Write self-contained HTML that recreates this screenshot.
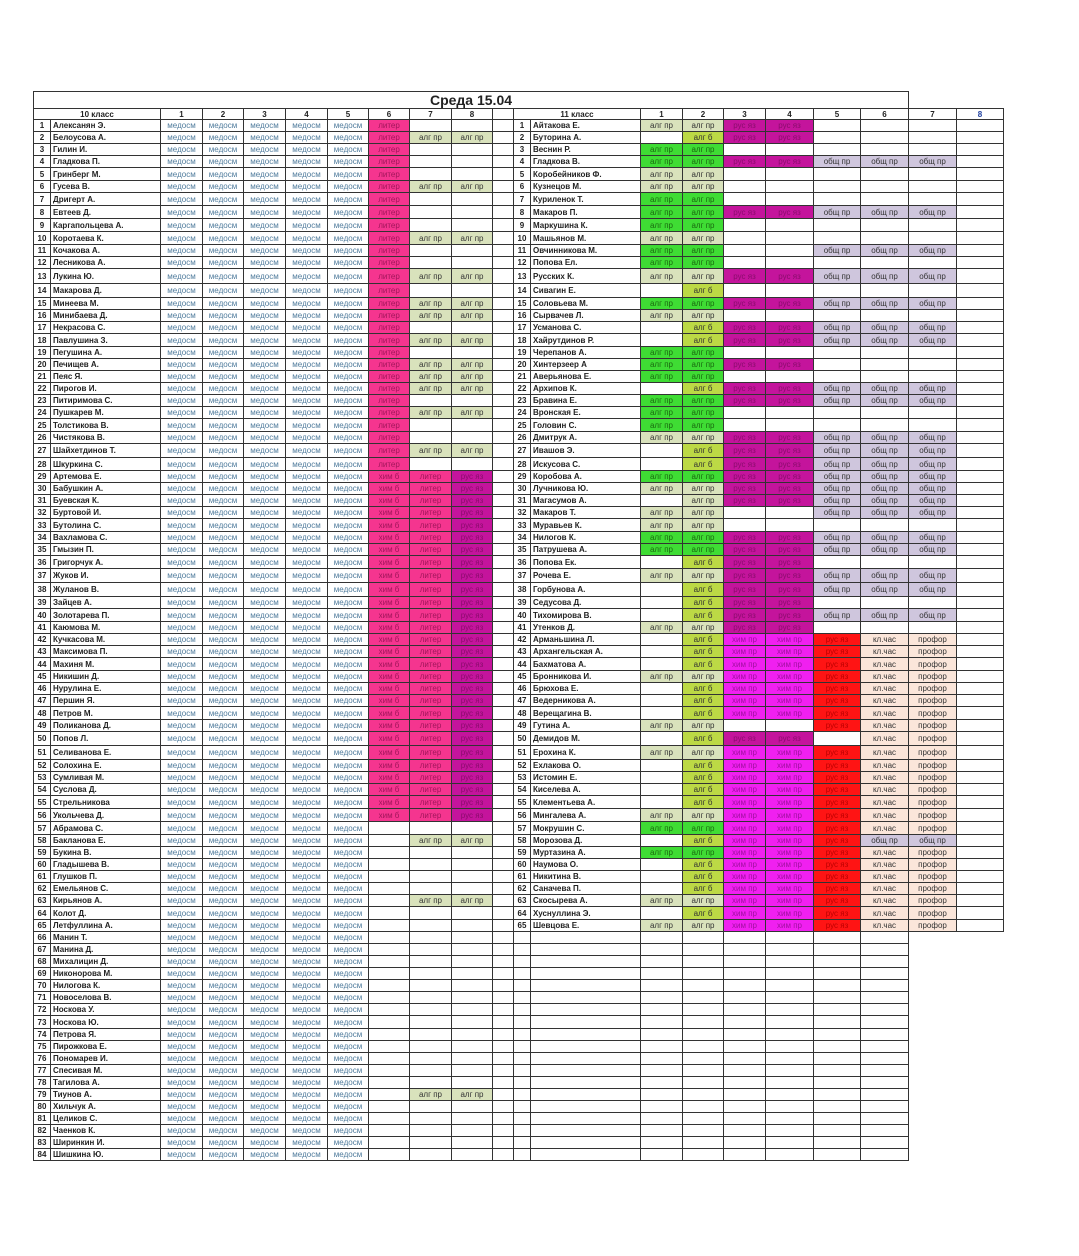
<!DOCTYPE html>
<html><head><meta charset="utf-8">
<style>
html,body{margin:0;padding:0;background:#fff;width:1079px;height:1256px;overflow:hidden}
table{position:absolute;left:33px;top:91px;border-collapse:collapse;table-layout:fixed;font-family:"Liberation Sans","DejaVu Sans",sans-serif;font-size:8px;color:#222}
td{border:1px solid #333;padding:0;text-align:center;white-space:nowrap;overflow:hidden;line-height:9px}
tr{height:12px}
tr.t13{height:13px}tr.t14{height:14px}tr.t15{height:15px}
td.i{font-weight:bold;text-align:center}
td.n{font-weight:bold;text-align:left;padding-left:2px}
td.m{color:#4f7b9c}
td.l,td.h{background:#f5358f;color:#a0155a}
td.a{background:#d9e2bc;color:#333}
td.g{background:#3fdc34;color:#1a6a10}
td.b{background:#bcd945;color:#333}
td.r{background:#c4149c;color:#8a0c6c}
td.x{background:#f020f0;color:#a010a0}
td.e{background:#ff1414;color:#b00}
td.o{background:#cfc6dd;color:#333}
td.k{background:#fbe6da;color:#333}
td.z{border:none}
tr.hd td{font-weight:bold}
tr.tt td.tt{font-size:14px;font-weight:bold;height:16px;border-bottom:1px solid #333}
</style></head><body>
<table>
<colgroup><col style="width:17px"><col style="width:110px"><col style="width:42px"><col style="width:41px"><col style="width:42px"><col style="width:42px"><col style="width:41px"><col style="width:41px"><col style="width:42px"><col style="width:41px"><col style="width:21px"><col style="width:17px"><col style="width:110px"><col style="width:42px"><col style="width:41px"><col style="width:42px"><col style="width:48px"><col style="width:47px"><col style="width:48px"><col style="width:48px"><col style="width:47px"></colgroup>
<tr class="tt" style="height:17px"><td class="tt" colspan="19">Среда 15.04</td><td class="z"></td><td class="z"></td></tr>
<tr class="hd" style="height:11px"><td colspan="2">10 класс</td><td>1</td><td>2</td><td>3</td><td>4</td><td>5</td><td>6</td><td>7</td><td>8</td><td></td><td colspan="2">11 класс</td><td>1</td><td>2</td><td>3</td><td>4</td><td>5</td><td>6</td><td>7</td><td style="color:#2040a0">8</td></tr>
<tr><td class=i>1</td><td class=n>Алексанян Э.</td><td class=m>медосм</td><td class=m>медосм</td><td class=m>медосм</td><td class=m>медосм</td><td class=m>медосм</td><td class=l>литер</td><td></td><td></td><td></td><td class=i>1</td><td class=n>Айтакова Е.</td><td class=a>алг пр</td><td class=a>алг пр</td><td class=r>рус яз</td><td class=r>рус яз</td><td></td><td></td><td></td><td></td></tr>
<tr><td class=i>2</td><td class=n>Белоусова А.</td><td class=m>медосм</td><td class=m>медосм</td><td class=m>медосм</td><td class=m>медосм</td><td class=m>медосм</td><td class=l>литер</td><td class=a>алг пр</td><td class=a>алг пр</td><td></td><td class=i>2</td><td class=n>Буторина А.</td><td></td><td class=b>алг б</td><td class=r>рус яз</td><td class=r>рус яз</td><td></td><td></td><td></td><td></td></tr>
<tr><td class=i>3</td><td class=n>Гилин И.</td><td class=m>медосм</td><td class=m>медосм</td><td class=m>медосм</td><td class=m>медосм</td><td class=m>медосм</td><td class=l>литер</td><td></td><td></td><td></td><td class=i>3</td><td class=n>Веснин Р.</td><td class=g>алг пр</td><td class=g>алг пр</td><td></td><td></td><td></td><td></td><td></td><td></td></tr>
<tr><td class=i>4</td><td class=n>Гладкова П.</td><td class=m>медосм</td><td class=m>медосм</td><td class=m>медосм</td><td class=m>медосм</td><td class=m>медосм</td><td class=l>литер</td><td></td><td></td><td></td><td class=i>4</td><td class=n>Гладкова В.</td><td class=g>алг пр</td><td class=g>алг пр</td><td class=r>рус яз</td><td class=r>рус яз</td><td class=o>общ пр</td><td class=o>общ пр</td><td class=o>общ пр</td><td></td></tr>
<tr class=t13><td class=i>5</td><td class=n>Гринберг М.</td><td class=m>медосм</td><td class=m>медосм</td><td class=m>медосм</td><td class=m>медосм</td><td class=m>медосм</td><td class=l>литер</td><td></td><td></td><td></td><td class=i>5</td><td class=n>Коробейников Ф.</td><td class=a>алг пр</td><td class=a>алг пр</td><td></td><td></td><td></td><td></td><td></td><td></td></tr>
<tr><td class=i>6</td><td class=n>Гусева В.</td><td class=m>медосм</td><td class=m>медосм</td><td class=m>медосм</td><td class=m>медосм</td><td class=m>медосм</td><td class=l>литер</td><td class=a>алг пр</td><td class=a>алг пр</td><td></td><td class=i>6</td><td class=n>Кузнецов М.</td><td class=a>алг пр</td><td class=a>алг пр</td><td></td><td></td><td></td><td></td><td></td><td></td></tr>
<tr class=t13><td class=i>7</td><td class=n>Дригерт А.</td><td class=m>медосм</td><td class=m>медосм</td><td class=m>медосм</td><td class=m>медосм</td><td class=m>медосм</td><td class=l>литер</td><td></td><td></td><td></td><td class=i>7</td><td class=n>Куриленок Т.</td><td class=g>алг пр</td><td class=g>алг пр</td><td></td><td></td><td></td><td></td><td></td><td></td></tr>
<tr class=t13><td class=i>8</td><td class=n>Евтеев Д.</td><td class=m>медосм</td><td class=m>медосм</td><td class=m>медосм</td><td class=m>медосм</td><td class=m>медосм</td><td class=l>литер</td><td></td><td></td><td></td><td class=i>8</td><td class=n>Макаров П.</td><td class=g>алг пр</td><td class=g>алг пр</td><td class=r>рус яз</td><td class=r>рус яз</td><td class=o>общ пр</td><td class=o>общ пр</td><td class=o>общ пр</td><td></td></tr>
<tr class=t13><td class=i>9</td><td class=n>Каргапольцева А.</td><td class=m>медосм</td><td class=m>медосм</td><td class=m>медосм</td><td class=m>медосм</td><td class=m>медосм</td><td class=l>литер</td><td></td><td></td><td></td><td class=i>9</td><td class=n>Маркушина К.</td><td class=g>алг пр</td><td class=g>алг пр</td><td></td><td></td><td></td><td></td><td></td><td></td></tr>
<tr class=t13><td class=i>10</td><td class=n>Коротаева К.</td><td class=m>медосм</td><td class=m>медосм</td><td class=m>медосм</td><td class=m>медосм</td><td class=m>медосм</td><td class=l>литер</td><td class=a>алг пр</td><td class=a>алг пр</td><td></td><td class=i>10</td><td class=n>Машьянов М.</td><td class=a>алг пр</td><td class=a>алг пр</td><td></td><td></td><td></td><td></td><td></td><td></td></tr>
<tr><td class=i>11</td><td class=n>Кочакова А.</td><td class=m>медосм</td><td class=m>медосм</td><td class=m>медосм</td><td class=m>медосм</td><td class=m>медосм</td><td class=l>литер</td><td></td><td></td><td></td><td class=i>11</td><td class=n>Овчинникова М.</td><td class=g>алг пр</td><td class=g>алг пр</td><td></td><td></td><td class=o>общ пр</td><td class=o>общ пр</td><td class=o>общ пр</td><td></td></tr>
<tr><td class=i>12</td><td class=n>Лесникова А.</td><td class=m>медосм</td><td class=m>медосм</td><td class=m>медосм</td><td class=m>медосм</td><td class=m>медосм</td><td class=l>литер</td><td></td><td></td><td></td><td class=i>12</td><td class=n>Попова Ел.</td><td class=g>алг пр</td><td class=g>алг пр</td><td></td><td></td><td></td><td></td><td></td><td></td></tr>
<tr class=t15><td class=i>13</td><td class=n>Лукина Ю.</td><td class=m>медосм</td><td class=m>медосм</td><td class=m>медосм</td><td class=m>медосм</td><td class=m>медосм</td><td class=l>литер</td><td class=a>алг пр</td><td class=a>алг пр</td><td></td><td class=i>13</td><td class=n>Русских К.</td><td class=a>алг пр</td><td class=a>алг пр</td><td class=r>рус яз</td><td class=r>рус яз</td><td class=o>общ пр</td><td class=o>общ пр</td><td class=o>общ пр</td><td></td></tr>
<tr class=t14><td class=i>14</td><td class=n>Макарова Д.</td><td class=m>медосм</td><td class=m>медосм</td><td class=m>медосм</td><td class=m>медосм</td><td class=m>медосм</td><td class=l>литер</td><td></td><td></td><td></td><td class=i>14</td><td class=n>Сивагин Е.</td><td></td><td class=b>алг б</td><td></td><td></td><td></td><td></td><td></td><td></td></tr>
<tr><td class=i>15</td><td class=n>Минеева М.</td><td class=m>медосм</td><td class=m>медосм</td><td class=m>медосм</td><td class=m>медосм</td><td class=m>медосм</td><td class=l>литер</td><td class=a>алг пр</td><td class=a>алг пр</td><td></td><td class=i>15</td><td class=n>Соловьева М.</td><td class=g>алг пр</td><td class=g>алг пр</td><td class=r>рус яз</td><td class=r>рус яз</td><td class=o>общ пр</td><td class=o>общ пр</td><td class=o>общ пр</td><td></td></tr>
<tr><td class=i>16</td><td class=n>Минибаева Д.</td><td class=m>медосм</td><td class=m>медосм</td><td class=m>медосм</td><td class=m>медосм</td><td class=m>медосм</td><td class=l>литер</td><td class=a>алг пр</td><td class=a>алг пр</td><td></td><td class=i>16</td><td class=n>Сырвачев Л.</td><td class=a>алг пр</td><td class=a>алг пр</td><td></td><td></td><td></td><td></td><td></td><td></td></tr>
<tr><td class=i>17</td><td class=n>Некрасова С.</td><td class=m>медосм</td><td class=m>медосм</td><td class=m>медосм</td><td class=m>медосм</td><td class=m>медосм</td><td class=l>литер</td><td></td><td></td><td></td><td class=i>17</td><td class=n>Усманова С.</td><td></td><td class=b>алг б</td><td class=r>рус яз</td><td class=r>рус яз</td><td class=o>общ пр</td><td class=o>общ пр</td><td class=o>общ пр</td><td></td></tr>
<tr class=t13><td class=i>18</td><td class=n>Павлушина З.</td><td class=m>медосм</td><td class=m>медосм</td><td class=m>медосм</td><td class=m>медосм</td><td class=m>медосм</td><td class=l>литер</td><td class=a>алг пр</td><td class=a>алг пр</td><td></td><td class=i>18</td><td class=n>Хайрутдинов Р.</td><td></td><td class=b>алг б</td><td class=r>рус яз</td><td class=r>рус яз</td><td class=o>общ пр</td><td class=o>общ пр</td><td class=o>общ пр</td><td></td></tr>
<tr><td class=i>19</td><td class=n>Пегушина А.</td><td class=m>медосм</td><td class=m>медосм</td><td class=m>медосм</td><td class=m>медосм</td><td class=m>медосм</td><td class=l>литер</td><td></td><td></td><td></td><td class=i>19</td><td class=n>Черепанов А.</td><td class=g>алг пр</td><td class=g>алг пр</td><td></td><td></td><td></td><td></td><td></td><td></td></tr>
<tr><td class=i>20</td><td class=n>Печищев А.</td><td class=m>медосм</td><td class=m>медосм</td><td class=m>медосм</td><td class=m>медосм</td><td class=m>медосм</td><td class=l>литер</td><td class=a>алг пр</td><td class=a>алг пр</td><td></td><td class=i>20</td><td class=n>Хинтерзеер А</td><td class=g>алг пр</td><td class=g>алг пр</td><td class=r>рус яз</td><td class=r>рус яз</td><td></td><td></td><td></td><td></td></tr>
<tr><td class=i>21</td><td class=n>Пеяс Я.</td><td class=m>медосм</td><td class=m>медосм</td><td class=m>медосм</td><td class=m>медосм</td><td class=m>медосм</td><td class=l>литер</td><td class=a>алг пр</td><td class=a>алг пр</td><td></td><td class=i>21</td><td class=n>Аверьянова Е.</td><td class=g>алг пр</td><td class=g>алг пр</td><td></td><td></td><td></td><td></td><td></td><td></td></tr>
<tr><td class=i>22</td><td class=n>Пирогов И.</td><td class=m>медосм</td><td class=m>медосм</td><td class=m>медосм</td><td class=m>медосм</td><td class=m>медосм</td><td class=l>литер</td><td class=a>алг пр</td><td class=a>алг пр</td><td></td><td class=i>22</td><td class=n>Архипов К.</td><td></td><td class=b>алг б</td><td class=r>рус яз</td><td class=r>рус яз</td><td class=o>общ пр</td><td class=o>общ пр</td><td class=o>общ пр</td><td></td></tr>
<tr><td class=i>23</td><td class=n>Питиримова С.</td><td class=m>медосм</td><td class=m>медосм</td><td class=m>медосм</td><td class=m>медосм</td><td class=m>медосм</td><td class=l>литер</td><td></td><td></td><td></td><td class=i>23</td><td class=n>Бравина Е.</td><td class=g>алг пр</td><td class=g>алг пр</td><td class=r>рус яз</td><td class=r>рус яз</td><td class=o>общ пр</td><td class=o>общ пр</td><td class=o>общ пр</td><td></td></tr>
<tr><td class=i>24</td><td class=n>Пушкарев М.</td><td class=m>медосм</td><td class=m>медосм</td><td class=m>медосм</td><td class=m>медосм</td><td class=m>медосм</td><td class=l>литер</td><td class=a>алг пр</td><td class=a>алг пр</td><td></td><td class=i>24</td><td class=n>Вронская Е.</td><td class=g>алг пр</td><td class=g>алг пр</td><td></td><td></td><td></td><td></td><td></td><td></td></tr>
<tr class=t13><td class=i>25</td><td class=n>Толстикова В.</td><td class=m>медосм</td><td class=m>медосм</td><td class=m>медосм</td><td class=m>медосм</td><td class=m>медосм</td><td class=l>литер</td><td></td><td></td><td></td><td class=i>25</td><td class=n>Головин С.</td><td class=g>алг пр</td><td class=g>алг пр</td><td></td><td></td><td></td><td></td><td></td><td></td></tr>
<tr><td class=i>26</td><td class=n>Чистякова В.</td><td class=m>медосм</td><td class=m>медосм</td><td class=m>медосм</td><td class=m>медосм</td><td class=m>медосм</td><td class=l>литер</td><td></td><td></td><td></td><td class=i>26</td><td class=n>Дмитрук А.</td><td class=a>алг пр</td><td class=a>алг пр</td><td class=r>рус яз</td><td class=r>рус яз</td><td class=o>общ пр</td><td class=o>общ пр</td><td class=o>общ пр</td><td></td></tr>
<tr class=t14><td class=i>27</td><td class=n>Шайхетдинов Т.</td><td class=m>медосм</td><td class=m>медосм</td><td class=m>медосм</td><td class=m>медосм</td><td class=m>медосм</td><td class=l>литер</td><td class=a>алг пр</td><td class=a>алг пр</td><td></td><td class=i>27</td><td class=n>Ивашов Э.</td><td></td><td class=b>алг б</td><td class=r>рус яз</td><td class=r>рус яз</td><td class=o>общ пр</td><td class=o>общ пр</td><td class=o>общ пр</td><td></td></tr>
<tr class=t13><td class=i>28</td><td class=n>Шкуркина С.</td><td class=m>медосм</td><td class=m>медосм</td><td class=m>медосм</td><td class=m>медосм</td><td class=m>медосм</td><td class=l>литер</td><td></td><td></td><td></td><td class=i>28</td><td class=n>Искусова С.</td><td></td><td class=b>алг б</td><td class=r>рус яз</td><td class=r>рус яз</td><td class=o>общ пр</td><td class=o>общ пр</td><td class=o>общ пр</td><td></td></tr>
<tr><td class=i>29</td><td class=n>Артемова Е.</td><td class=m>медосм</td><td class=m>медосм</td><td class=m>медосм</td><td class=m>медосм</td><td class=m>медосм</td><td class=h>хим б</td><td class=l>литер</td><td class=r>рус яз</td><td></td><td class=i>29</td><td class=n>Коробова А.</td><td class=g>алг пр</td><td class=g>алг пр</td><td class=r>рус яз</td><td class=r>рус яз</td><td class=o>общ пр</td><td class=o>общ пр</td><td class=o>общ пр</td><td></td></tr>
<tr><td class=i>30</td><td class=n>Бабушкин А.</td><td class=m>медосм</td><td class=m>медосм</td><td class=m>медосм</td><td class=m>медосм</td><td class=m>медосм</td><td class=h>хим б</td><td class=l>литер</td><td class=r>рус яз</td><td></td><td class=i>30</td><td class=n>Лучникова Ю.</td><td class=a>алг пр</td><td class=a>алг пр</td><td class=r>рус яз</td><td class=r>рус яз</td><td class=o>общ пр</td><td class=o>общ пр</td><td class=o>общ пр</td><td></td></tr>
<tr><td class=i>31</td><td class=n>Буевская К.</td><td class=m>медосм</td><td class=m>медосм</td><td class=m>медосм</td><td class=m>медосм</td><td class=m>медосм</td><td class=h>хим б</td><td class=l>литер</td><td class=r>рус яз</td><td></td><td class=i>31</td><td class=n>Магасумов А.</td><td></td><td class=a>алг пр</td><td class=r>рус яз</td><td class=r>рус яз</td><td class=o>общ пр</td><td class=o>общ пр</td><td class=o>общ пр</td><td></td></tr>
<tr><td class=i>32</td><td class=n>Буртовой И.</td><td class=m>медосм</td><td class=m>медосм</td><td class=m>медосм</td><td class=m>медосм</td><td class=m>медосм</td><td class=h>хим б</td><td class=l>литер</td><td class=r>рус яз</td><td></td><td class=i>32</td><td class=n>Макаров Т.</td><td class=a>алг пр</td><td class=a>алг пр</td><td></td><td></td><td class=o>общ пр</td><td class=o>общ пр</td><td class=o>общ пр</td><td></td></tr>
<tr class=t13><td class=i>33</td><td class=n>Бутолина С.</td><td class=m>медосм</td><td class=m>медосм</td><td class=m>медосм</td><td class=m>медосм</td><td class=m>медосм</td><td class=h>хим б</td><td class=l>литер</td><td class=r>рус яз</td><td></td><td class=i>33</td><td class=n>Муравьев К.</td><td class=a>алг пр</td><td class=a>алг пр</td><td></td><td></td><td></td><td></td><td></td><td></td></tr>
<tr><td class=i>34</td><td class=n>Вахламова С.</td><td class=m>медосм</td><td class=m>медосм</td><td class=m>медосм</td><td class=m>медосм</td><td class=m>медосм</td><td class=h>хим б</td><td class=l>литер</td><td class=r>рус яз</td><td></td><td class=i>34</td><td class=n>Нилогов К.</td><td class=g>алг пр</td><td class=g>алг пр</td><td class=r>рус яз</td><td class=r>рус яз</td><td class=o>общ пр</td><td class=o>общ пр</td><td class=o>общ пр</td><td></td></tr>
<tr><td class=i>35</td><td class=n>Гмызин П.</td><td class=m>медосм</td><td class=m>медосм</td><td class=m>медосм</td><td class=m>медосм</td><td class=m>медосм</td><td class=h>хим б</td><td class=l>литер</td><td class=r>рус яз</td><td></td><td class=i>35</td><td class=n>Патрушева А.</td><td class=g>алг пр</td><td class=g>алг пр</td><td class=r>рус яз</td><td class=r>рус яз</td><td class=o>общ пр</td><td class=o>общ пр</td><td class=o>общ пр</td><td></td></tr>
<tr class=t13><td class=i>36</td><td class=n>Григорчук А.</td><td class=m>медосм</td><td class=m>медосм</td><td class=m>медосм</td><td class=m>медосм</td><td class=m>медосм</td><td class=h>хим б</td><td class=l>литер</td><td class=r>рус яз</td><td></td><td class=i>36</td><td class=n>Попова Ек.</td><td></td><td class=b>алг б</td><td class=r>рус яз</td><td class=r>рус яз</td><td></td><td></td><td></td><td></td></tr>
<tr class=t14><td class=i>37</td><td class=n>Жуков И.</td><td class=m>медосм</td><td class=m>медосм</td><td class=m>медосм</td><td class=m>медосм</td><td class=m>медосм</td><td class=h>хим б</td><td class=l>литер</td><td class=r>рус яз</td><td></td><td class=i>37</td><td class=n>Рочева Е.</td><td class=a>алг пр</td><td class=a>алг пр</td><td class=r>рус яз</td><td class=r>рус яз</td><td class=o>общ пр</td><td class=o>общ пр</td><td class=o>общ пр</td><td></td></tr>
<tr class=t14><td class=i>38</td><td class=n>Жуланов В.</td><td class=m>медосм</td><td class=m>медосм</td><td class=m>медосм</td><td class=m>медосм</td><td class=m>медосм</td><td class=h>хим б</td><td class=l>литер</td><td class=r>рус яз</td><td></td><td class=i>38</td><td class=n>Горбунова А.</td><td></td><td class=b>алг б</td><td class=r>рус яз</td><td class=r>рус яз</td><td class=o>общ пр</td><td class=o>общ пр</td><td class=o>общ пр</td><td></td></tr>
<tr><td class=i>39</td><td class=n>Зайцев А.</td><td class=m>медосм</td><td class=m>медосм</td><td class=m>медосм</td><td class=m>медосм</td><td class=m>медосм</td><td class=h>хим б</td><td class=l>литер</td><td class=r>рус яз</td><td></td><td class=i>39</td><td class=n>Седусова Д.</td><td></td><td class=b>алг б</td><td class=r>рус яз</td><td class=r>рус яз</td><td></td><td></td><td></td><td></td></tr>
<tr class=t13><td class=i>40</td><td class=n>Золотарева П.</td><td class=m>медосм</td><td class=m>медосм</td><td class=m>медосм</td><td class=m>медосм</td><td class=m>медосм</td><td class=h>хим б</td><td class=l>литер</td><td class=r>рус яз</td><td></td><td class=i>40</td><td class=n>Тихомирова В.</td><td></td><td class=b>алг б</td><td class=r>рус яз</td><td class=r>рус яз</td><td class=o>общ пр</td><td class=o>общ пр</td><td class=o>общ пр</td><td></td></tr>
<tr><td class=i>41</td><td class=n>Каюмова М.</td><td class=m>медосм</td><td class=m>медосм</td><td class=m>медосм</td><td class=m>медосм</td><td class=m>медосм</td><td class=h>хим б</td><td class=l>литер</td><td class=r>рус яз</td><td></td><td class=i>41</td><td class=n>Утенков Д.</td><td class=a>алг пр</td><td class=a>алг пр</td><td class=r>рус яз</td><td class=r>рус яз</td><td></td><td></td><td></td><td></td></tr>
<tr><td class=i>42</td><td class=n>Кучкасова М.</td><td class=m>медосм</td><td class=m>медосм</td><td class=m>медосм</td><td class=m>медосм</td><td class=m>медосм</td><td class=h>хим б</td><td class=l>литер</td><td class=r>рус яз</td><td></td><td class=i>42</td><td class=n>Арманьшина Л.</td><td></td><td class=b>алг б</td><td class=x>хим пр</td><td class=x>хим пр</td><td class=e>рус яз</td><td class=k>кл.час</td><td class=k>профор</td><td></td></tr>
<tr><td class=i>43</td><td class=n>Максимова П.</td><td class=m>медосм</td><td class=m>медосм</td><td class=m>медосм</td><td class=m>медосм</td><td class=m>медосм</td><td class=h>хим б</td><td class=l>литер</td><td class=r>рус яз</td><td></td><td class=i>43</td><td class=n>Архангельская А.</td><td></td><td class=b>алг б</td><td class=x>хим пр</td><td class=x>хим пр</td><td class=e>рус яз</td><td class=k>кл.час</td><td class=k>профор</td><td></td></tr>
<tr class=t13><td class=i>44</td><td class=n>Махиня М.</td><td class=m>медосм</td><td class=m>медосм</td><td class=m>медосм</td><td class=m>медосм</td><td class=m>медосм</td><td class=h>хим б</td><td class=l>литер</td><td class=r>рус яз</td><td></td><td class=i>44</td><td class=n>Бахматова А.</td><td></td><td class=b>алг б</td><td class=x>хим пр</td><td class=x>хим пр</td><td class=e>рус яз</td><td class=k>кл.час</td><td class=k>профор</td><td></td></tr>
<tr><td class=i>45</td><td class=n>Никишин Д.</td><td class=m>медосм</td><td class=m>медосм</td><td class=m>медосм</td><td class=m>медосм</td><td class=m>медосм</td><td class=h>хим б</td><td class=l>литер</td><td class=r>рус яз</td><td></td><td class=i>45</td><td class=n>Бронникова И.</td><td class=a>алг пр</td><td class=a>алг пр</td><td class=x>хим пр</td><td class=x>хим пр</td><td class=e>рус яз</td><td class=k>кл.час</td><td class=k>профор</td><td></td></tr>
<tr><td class=i>46</td><td class=n>Нурулина Е.</td><td class=m>медосм</td><td class=m>медосм</td><td class=m>медосм</td><td class=m>медосм</td><td class=m>медосм</td><td class=h>хим б</td><td class=l>литер</td><td class=r>рус яз</td><td></td><td class=i>46</td><td class=n>Брюхова Е.</td><td></td><td class=b>алг б</td><td class=x>хим пр</td><td class=x>хим пр</td><td class=e>рус яз</td><td class=k>кл.час</td><td class=k>профор</td><td></td></tr>
<tr><td class=i>47</td><td class=n>Першин Я.</td><td class=m>медосм</td><td class=m>медосм</td><td class=m>медосм</td><td class=m>медосм</td><td class=m>медосм</td><td class=h>хим б</td><td class=l>литер</td><td class=r>рус яз</td><td></td><td class=i>47</td><td class=n>Ведерникова А.</td><td></td><td class=b>алг б</td><td class=x>хим пр</td><td class=x>хим пр</td><td class=e>рус яз</td><td class=k>кл.час</td><td class=k>профор</td><td></td></tr>
<tr class=t13><td class=i>48</td><td class=n>Петров М.</td><td class=m>медосм</td><td class=m>медосм</td><td class=m>медосм</td><td class=m>медосм</td><td class=m>медосм</td><td class=h>хим б</td><td class=l>литер</td><td class=r>рус яз</td><td></td><td class=i>48</td><td class=n>Верещагина В.</td><td></td><td class=b>алг б</td><td class=x>хим пр</td><td class=x>хим пр</td><td class=e>рус яз</td><td class=k>кл.час</td><td class=k>профор</td><td></td></tr>
<tr><td class=i>49</td><td class=n>Поликанова Д.</td><td class=m>медосм</td><td class=m>медосм</td><td class=m>медосм</td><td class=m>медосм</td><td class=m>медосм</td><td class=h>хим б</td><td class=l>литер</td><td class=r>рус яз</td><td></td><td class=i>49</td><td class=n>Гутина А.</td><td class=a>алг пр</td><td class=a>алг пр</td><td></td><td></td><td class=e>рус яз</td><td class=k>кл.час</td><td class=k>профор</td><td></td></tr>
<tr class=t14><td class=i>50</td><td class=n>Попов Л.</td><td class=m>медосм</td><td class=m>медосм</td><td class=m>медосм</td><td class=m>медосм</td><td class=m>медосм</td><td class=h>хим б</td><td class=l>литер</td><td class=r>рус яз</td><td></td><td class=i>50</td><td class=n>Демидов М.</td><td></td><td class=b>алг б</td><td class=r>рус яз</td><td class=r>рус яз</td><td></td><td class=k>кл.час</td><td class=k>профор</td><td></td></tr>
<tr class=t14><td class=i>51</td><td class=n>Селиванова Е.</td><td class=m>медосм</td><td class=m>медосм</td><td class=m>медосм</td><td class=m>медосм</td><td class=m>медосм</td><td class=h>хим б</td><td class=l>литер</td><td class=r>рус яз</td><td></td><td class=i>51</td><td class=n>Ерохина К.</td><td class=a>алг пр</td><td class=a>алг пр</td><td class=x>хим пр</td><td class=x>хим пр</td><td class=e>рус яз</td><td class=k>кл.час</td><td class=k>профор</td><td></td></tr>
<tr><td class=i>52</td><td class=n>Солохина Е.</td><td class=m>медосм</td><td class=m>медосм</td><td class=m>медосм</td><td class=m>медосм</td><td class=m>медосм</td><td class=h>хим б</td><td class=l>литер</td><td class=r>рус яз</td><td></td><td class=i>52</td><td class=n>Ехлакова О.</td><td></td><td class=b>алг б</td><td class=x>хим пр</td><td class=x>хим пр</td><td class=e>рус яз</td><td class=k>кл.час</td><td class=k>профор</td><td></td></tr>
<tr><td class=i>53</td><td class=n>Сумливая М.</td><td class=m>медосм</td><td class=m>медосм</td><td class=m>медосм</td><td class=m>медосм</td><td class=m>медосм</td><td class=h>хим б</td><td class=l>литер</td><td class=r>рус яз</td><td></td><td class=i>53</td><td class=n>Истомин Е.</td><td></td><td class=b>алг б</td><td class=x>хим пр</td><td class=x>хим пр</td><td class=e>рус яз</td><td class=k>кл.час</td><td class=k>профор</td><td></td></tr>
<tr><td class=i>54</td><td class=n>Суслова Д.</td><td class=m>медосм</td><td class=m>медосм</td><td class=m>медосм</td><td class=m>медосм</td><td class=m>медосм</td><td class=h>хим б</td><td class=l>литер</td><td class=r>рус яз</td><td></td><td class=i>54</td><td class=n>Киселева А.</td><td></td><td class=b>алг б</td><td class=x>хим пр</td><td class=x>хим пр</td><td class=e>рус яз</td><td class=k>кл.час</td><td class=k>профор</td><td></td></tr>
<tr class=t13><td class=i>55</td><td class=n>Стрельникова</td><td class=m>медосм</td><td class=m>медосм</td><td class=m>медосм</td><td class=m>медосм</td><td class=m>медосм</td><td class=h>хим б</td><td class=l>литер</td><td class=r>рус яз</td><td></td><td class=i>55</td><td class=n>Клементьева А.</td><td></td><td class=b>алг б</td><td class=x>хим пр</td><td class=x>хим пр</td><td class=e>рус яз</td><td class=k>кл.час</td><td class=k>профор</td><td></td></tr>
<tr class=t13><td class=i>56</td><td class=n>Укольчева Д.</td><td class=m>медосм</td><td class=m>медосм</td><td class=m>медосм</td><td class=m>медосм</td><td class=m>медосм</td><td class=h>хим б</td><td class=l>литер</td><td class=r>рус яз</td><td></td><td class=i>56</td><td class=n>Мингалева А.</td><td class=a>алг пр</td><td class=a>алг пр</td><td class=x>хим пр</td><td class=x>хим пр</td><td class=e>рус яз</td><td class=k>кл.час</td><td class=k>профор</td><td></td></tr>
<tr class=t13><td class=i>57</td><td class=n>Абрамова С.</td><td class=m>медосм</td><td class=m>медосм</td><td class=m>медосм</td><td class=m>медосм</td><td class=m>медосм</td><td></td><td></td><td></td><td></td><td class=i>57</td><td class=n>Мокрушин С.</td><td class=g>алг пр</td><td class=g>алг пр</td><td class=x>хим пр</td><td class=x>хим пр</td><td class=e>рус яз</td><td class=k>кл.час</td><td class=k>профор</td><td></td></tr>
<tr><td class=i>58</td><td class=n>Бакланова Е.</td><td class=m>медосм</td><td class=m>медосм</td><td class=m>медосм</td><td class=m>медосм</td><td class=m>медосм</td><td></td><td class=a>алг пр</td><td class=a>алг пр</td><td></td><td class=i>58</td><td class=n>Морозова Д.</td><td></td><td class=b>алг б</td><td class=x>хим пр</td><td class=x>хим пр</td><td class=e>рус яз</td><td class=o>общ пр</td><td class=o>общ пр</td><td></td></tr>
<tr><td class=i>59</td><td class=n>Букина В.</td><td class=m>медосм</td><td class=m>медосм</td><td class=m>медосм</td><td class=m>медосм</td><td class=m>медосм</td><td></td><td></td><td></td><td></td><td class=i>59</td><td class=n>Муртазина А.</td><td class=g>алг пр</td><td class=g>алг пр</td><td class=x>хим пр</td><td class=x>хим пр</td><td class=e>рус яз</td><td class=k>кл.час</td><td class=k>профор</td><td></td></tr>
<tr><td class=i>60</td><td class=n>Гладышева В.</td><td class=m>медосм</td><td class=m>медосм</td><td class=m>медосм</td><td class=m>медосм</td><td class=m>медосм</td><td></td><td></td><td></td><td></td><td class=i>60</td><td class=n>Наумова О.</td><td></td><td class=b>алг б</td><td class=x>хим пр</td><td class=x>хим пр</td><td class=e>рус яз</td><td class=k>кл.час</td><td class=k>профор</td><td></td></tr>
<tr><td class=i>61</td><td class=n>Глушков П.</td><td class=m>медосм</td><td class=m>медосм</td><td class=m>медосм</td><td class=m>медосм</td><td class=m>медосм</td><td></td><td></td><td></td><td></td><td class=i>61</td><td class=n>Никитина В.</td><td></td><td class=b>алг б</td><td class=x>хим пр</td><td class=x>хим пр</td><td class=e>рус яз</td><td class=k>кл.час</td><td class=k>профор</td><td></td></tr>
<tr><td class=i>62</td><td class=n>Емельянов С.</td><td class=m>медосм</td><td class=m>медосм</td><td class=m>медосм</td><td class=m>медосм</td><td class=m>медосм</td><td></td><td></td><td></td><td></td><td class=i>62</td><td class=n>Саначева П.</td><td></td><td class=b>алг б</td><td class=x>хим пр</td><td class=x>хим пр</td><td class=e>рус яз</td><td class=k>кл.час</td><td class=k>профор</td><td></td></tr>
<tr><td class=i>63</td><td class=n>Кирьянов А.</td><td class=m>медосм</td><td class=m>медосм</td><td class=m>медосм</td><td class=m>медосм</td><td class=m>медосм</td><td></td><td class=a>алг пр</td><td class=a>алг пр</td><td></td><td class=i>63</td><td class=n>Скосырева А.</td><td class=a>алг пр</td><td class=a>алг пр</td><td class=x>хим пр</td><td class=x>хим пр</td><td class=e>рус яз</td><td class=k>кл.час</td><td class=k>профор</td><td></td></tr>
<tr class=t13><td class=i>64</td><td class=n>Колот Д.</td><td class=m>медосм</td><td class=m>медосм</td><td class=m>медосм</td><td class=m>медосм</td><td class=m>медосм</td><td></td><td></td><td></td><td></td><td class=i>64</td><td class=n>Хуснуллина Э.</td><td></td><td class=b>алг б</td><td class=x>хим пр</td><td class=x>хим пр</td><td class=e>рус яз</td><td class=k>кл.час</td><td class=k>профор</td><td></td></tr>
<tr><td class=i>65</td><td class=n>Летфуллина А.</td><td class=m>медосм</td><td class=m>медосм</td><td class=m>медосм</td><td class=m>медосм</td><td class=m>медосм</td><td></td><td></td><td></td><td></td><td class=i>65</td><td class=n>Шевцова Е.</td><td class=a>алг пр</td><td class=a>алг пр</td><td class=x>хим пр</td><td class=x>хим пр</td><td class=e>рус яз</td><td class=k>кл.час</td><td class=k>профор</td><td></td></tr>
<tr><td class=i>66</td><td class=n>Манин Т.</td><td class=m>медосм</td><td class=m>медосм</td><td class=m>медосм</td><td class=m>медосм</td><td class=m>медосм</td><td></td><td></td><td></td><td></td><td></td><td></td><td></td><td></td><td></td><td></td><td></td><td></td><td class=z></td><td class=z></td></tr>
<tr><td class=i>67</td><td class=n>Манина Д.</td><td class=m>медосм</td><td class=m>медосм</td><td class=m>медосм</td><td class=m>медосм</td><td class=m>медосм</td><td></td><td></td><td></td><td></td><td></td><td></td><td></td><td></td><td></td><td></td><td></td><td></td><td class=z></td><td class=z></td></tr>
<tr><td class=i>68</td><td class=n>Михалицин Д.</td><td class=m>медосм</td><td class=m>медосм</td><td class=m>медосм</td><td class=m>медосм</td><td class=m>медосм</td><td></td><td></td><td></td><td></td><td></td><td></td><td></td><td></td><td></td><td></td><td></td><td></td><td class=z></td><td class=z></td></tr>
<tr><td class=i>69</td><td class=n>Никонорова М.</td><td class=m>медосм</td><td class=m>медосм</td><td class=m>медосм</td><td class=m>медосм</td><td class=m>медосм</td><td></td><td></td><td></td><td></td><td></td><td></td><td></td><td></td><td></td><td></td><td></td><td></td><td class=z></td><td class=z></td></tr>
<tr><td class=i>70</td><td class=n>Нилогова К.</td><td class=m>медосм</td><td class=m>медосм</td><td class=m>медосм</td><td class=m>медосм</td><td class=m>медосм</td><td></td><td></td><td></td><td></td><td></td><td></td><td></td><td></td><td></td><td></td><td></td><td></td><td class=z></td><td class=z></td></tr>
<tr><td class=i>71</td><td class=n>Новоселова В.</td><td class=m>медосм</td><td class=m>медосм</td><td class=m>медосм</td><td class=m>медосм</td><td class=m>медосм</td><td></td><td></td><td></td><td></td><td></td><td></td><td></td><td></td><td></td><td></td><td></td><td></td><td class=z></td><td class=z></td></tr>
<tr><td class=i>72</td><td class=n>Носкова У.</td><td class=m>медосм</td><td class=m>медосм</td><td class=m>медосм</td><td class=m>медосм</td><td class=m>медосм</td><td></td><td></td><td></td><td></td><td></td><td></td><td></td><td></td><td></td><td></td><td></td><td></td><td class=z></td><td class=z></td></tr>
<tr class=t13><td class=i>73</td><td class=n>Носкова Ю.</td><td class=m>медосм</td><td class=m>медосм</td><td class=m>медосм</td><td class=m>медосм</td><td class=m>медосм</td><td></td><td></td><td></td><td></td><td></td><td></td><td></td><td></td><td></td><td></td><td></td><td></td><td class=z></td><td class=z></td></tr>
<tr><td class=i>74</td><td class=n>Петрова Я.</td><td class=m>медосм</td><td class=m>медосм</td><td class=m>медосм</td><td class=m>медосм</td><td class=m>медосм</td><td></td><td></td><td></td><td></td><td></td><td></td><td></td><td></td><td></td><td></td><td></td><td></td><td class=z></td><td class=z></td></tr>
<tr><td class=i>75</td><td class=n>Пирожкова Е.</td><td class=m>медосм</td><td class=m>медосм</td><td class=m>медосм</td><td class=m>медосм</td><td class=m>медосм</td><td></td><td></td><td></td><td></td><td></td><td></td><td></td><td></td><td></td><td></td><td></td><td></td><td class=z></td><td class=z></td></tr>
<tr><td class=i>76</td><td class=n>Пономарев И.</td><td class=m>медосм</td><td class=m>медосм</td><td class=m>медосм</td><td class=m>медосм</td><td class=m>медосм</td><td></td><td></td><td></td><td></td><td></td><td></td><td></td><td></td><td></td><td></td><td></td><td></td><td class=z></td><td class=z></td></tr>
<tr><td class=i>77</td><td class=n>Спесивая М.</td><td class=m>медосм</td><td class=m>медосм</td><td class=m>медосм</td><td class=m>медосм</td><td class=m>медосм</td><td></td><td></td><td></td><td></td><td></td><td></td><td></td><td></td><td></td><td></td><td></td><td></td><td class=z></td><td class=z></td></tr>
<tr><td class=i>78</td><td class=n>Тагилова А.</td><td class=m>медосм</td><td class=m>медосм</td><td class=m>медосм</td><td class=m>медосм</td><td class=m>медосм</td><td></td><td></td><td></td><td></td><td></td><td></td><td></td><td></td><td></td><td></td><td></td><td></td><td class=z></td><td class=z></td></tr>
<tr><td class=i>79</td><td class=n>Тиунов А.</td><td class=m>медосм</td><td class=m>медосм</td><td class=m>медосм</td><td class=m>медосм</td><td class=m>медосм</td><td></td><td class=a>алг пр</td><td class=a>алг пр</td><td></td><td></td><td></td><td></td><td></td><td></td><td></td><td></td><td></td><td class=z></td><td class=z></td></tr>
<tr><td class=i>80</td><td class=n>Хильчук А.</td><td class=m>медосм</td><td class=m>медосм</td><td class=m>медосм</td><td class=m>медосм</td><td class=m>медосм</td><td></td><td></td><td></td><td></td><td></td><td></td><td></td><td></td><td></td><td></td><td></td><td></td><td class=z></td><td class=z></td></tr>
<tr><td class=i>81</td><td class=n>Целиков С.</td><td class=m>медосм</td><td class=m>медосм</td><td class=m>медосм</td><td class=m>медосм</td><td class=m>медосм</td><td></td><td></td><td></td><td></td><td></td><td></td><td></td><td></td><td></td><td></td><td></td><td></td><td class=z></td><td class=z></td></tr>
<tr><td class=i>82</td><td class=n>Чаенков К.</td><td class=m>медосм</td><td class=m>медосм</td><td class=m>медосм</td><td class=m>медосм</td><td class=m>медосм</td><td></td><td></td><td></td><td></td><td></td><td></td><td></td><td></td><td></td><td></td><td></td><td></td><td class=z></td><td class=z></td></tr>
<tr><td class=i>83</td><td class=n>Ширинкин И.</td><td class=m>медосм</td><td class=m>медосм</td><td class=m>медосм</td><td class=m>медосм</td><td class=m>медосм</td><td></td><td></td><td></td><td></td><td></td><td></td><td></td><td></td><td></td><td></td><td></td><td></td><td class=z></td><td class=z></td></tr>
<tr><td class=i>84</td><td class=n>Шишкина Ю.</td><td class=m>медосм</td><td class=m>медосм</td><td class=m>медосм</td><td class=m>медосм</td><td class=m>медосм</td><td></td><td></td><td></td><td></td><td></td><td></td><td></td><td></td><td></td><td></td><td></td><td></td><td class=z></td><td class=z></td></tr>
</table>
</body></html>
